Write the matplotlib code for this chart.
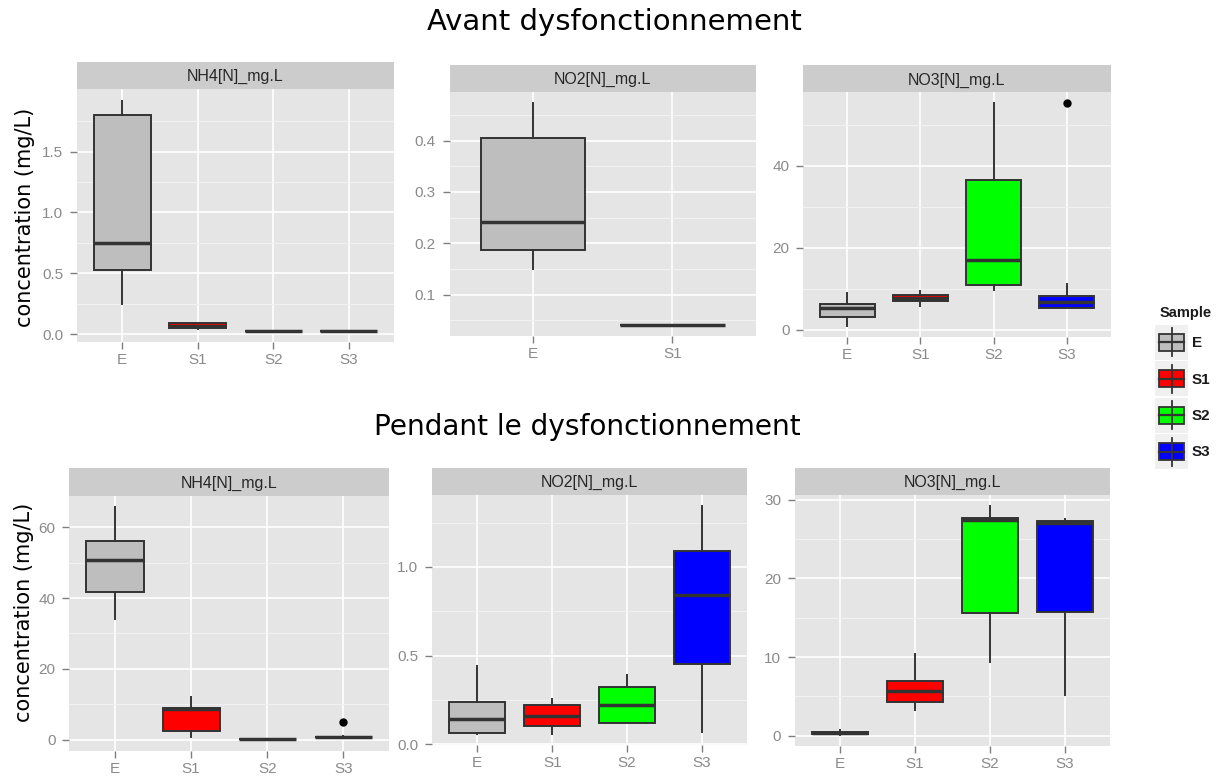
import matplotlib
matplotlib.use("Agg")
import matplotlib.pyplot as plt
from matplotlib.patches import Rectangle
from matplotlib.ticker import FixedLocator, NullLocator

# ---------------- data ----------------
samples = ["E", "S1", "S2", "S3"]
sample_colors = {"E": "#bebebe", "S1": "#ff0000", "S2": "#00ff00", "S3": "#0000ff"}
strip_labels = ["NH4[N]_mg.L", "NO2[N]_mg.L", "NO3[N]_mg.L"]
row_titles = ["Avant dysfonctionnement", "Pendant le dysfonctionnement"]
ylabel = "concentration (mg/L)"

# each row: [whisker low, Q1, median, Q3, whisker high]
# --- Avant ---
avant_nh4_cats = ["E", "S1", "S2", "S3"]
avant_nh4 = [[0.25, 0.53, 0.75, 1.80, 1.92],
             [0.045, 0.05, 0.065, 0.09, 0.095],
             [0.03, 0.03, 0.03, 0.03, 0.03],
             [0.03, 0.03, 0.03, 0.03, 0.03]]
avant_nh4_out = [[], [], [], []]

avant_no2_cats = ["E", "S1"]
avant_no2 = [[0.15, 0.186, 0.241, 0.405, 0.473],
             [0.041, 0.041, 0.041, 0.041, 0.041]]
avant_no2_out = [[], []]

avant_no3_cats = ["E", "S1", "S2", "S3"]
avant_no3 = [[1.05, 3.1, 5.3, 6.4, 9.1],
             [5.8, 7.1, 7.8, 8.4, 9.6],
             [9.8, 11.0, 17.1, 36.6, 55.2],
             [5.3, 5.4, 6.8, 8.2, 11.1]]
avant_no3_out = [[], [], [], [55.2]]

# --- Pendant ---
pendant_nh4_cats = ["E", "S1", "S2", "S3"]
pendant_nh4 = [[34.0, 41.7, 50.7, 56.2, 65.6],
               [0.9, 2.6, 8.7, 9.0, 12.0],
               [0.1, 0.15, 0.2, 0.25, 0.3],
               [0.6, 0.7, 0.8, 0.9, 1.0]]
pendant_nh4_out = [[], [], [], [4.9]]

pendant_no2_cats = ["E", "S1", "S2", "S3"]
pendant_no2 = [[0.06, 0.066, 0.145, 0.239, 0.44],
               [0.06, 0.104, 0.16, 0.224, 0.254],
               [0.12, 0.12, 0.22, 0.324, 0.393],
               [0.07, 0.455, 0.844, 1.088, 1.342]]
pendant_no2_out = [[], [], [], []]

pendant_no3_cats = ["E", "S1", "S2", "S3"]
pendant_no3 = [[0.15, 0.2, 0.35, 0.5, 0.7],
               [3.3, 4.23, 5.63, 6.97, 10.35],
               [9.43, 15.55, 27.4, 27.7, 29.15],
               [5.2, 15.77, 27.1, 27.3, 27.6]]
pendant_no3_out = [[], [], [], []]

# y breaks per panel
avant_nh4_major = [0.0, 0.5, 1.0, 1.5]; avant_nh4_minor = [0.25, 0.75, 1.25, 1.75]
avant_nh4_lbl = ["0.0", "0.5", "1.0", "1.5"]
avant_no2_major = [0.1, 0.2, 0.3, 0.4]; avant_no2_minor = [0.05, 0.15, 0.25, 0.35, 0.45]
avant_no2_lbl = ["0.1", "0.2", "0.3", "0.4"]
avant_no3_major = [0, 20, 40]; avant_no3_minor = [10, 30, 50]
avant_no3_lbl = ["0", "20", "40"]
pendant_nh4_major = [0, 20, 40, 60]; pendant_nh4_minor = [10, 30, 50]
pendant_nh4_lbl = ["0", "20", "40", "60"]
pendant_no2_major = [0.0, 0.5, 1.0]; pendant_no2_minor = [0.25, 0.75, 1.25]
pendant_no2_lbl = ["0.0", "0.5", "1.0"]
pendant_no3_major = [0, 10, 20, 30]; pendant_no3_minor = [5, 15, 25]
pendant_no3_lbl = ["0", "10", "20", "30"]

# ---------------- layout ----------------
W, H = 1220, 781
fig = plt.figure(figsize=(W / 100, H / 100), dpi=100)
fig.patch.set_facecolor("white")

def rect(x0, y0, x1, y1):
    return [x0 / W, 1 - y1 / H, (x1 - x0) / W, (y1 - y0) / H]

EDGE = "#333333"
TICKC = "#7f7f7f"
LBLC = "#8a8a8a"
TICKFONT = "Liberation Sans"

panels = [
    ((77, 89, 394, 342), (77, 62, 394, 89), avant_nh4_cats, avant_nh4, avant_nh4_out,
     avant_nh4_major, avant_nh4_minor, avant_nh4_lbl, strip_labels[0]),
    ((449.5, 92, 756, 336), (449.5, 65, 756, 92), avant_no2_cats, avant_no2, avant_no2_out,
     avant_no2_major, avant_no2_minor, avant_no2_lbl, strip_labels[1]),
    ((803.4, 92.3, 1110.5, 336.7), (803.4, 65, 1110.5, 92.3), avant_no3_cats, avant_no3, avant_no3_out,
     avant_no3_major, avant_no3_minor, avant_no3_lbl, strip_labels[2]),
    ((69.3, 495.7, 389, 751), (69.3, 467.5, 389, 495.7), pendant_nh4_cats, pendant_nh4, pendant_nh4_out,
     pendant_nh4_major, pendant_nh4_minor, pendant_nh4_lbl, strip_labels[0]),
    ((432.3, 495, 747, 745), (432.3, 467.5, 747, 495), pendant_no2_cats, pendant_no2, pendant_no2_out,
     pendant_no2_major, pendant_no2_minor, pendant_no2_lbl, strip_labels[1]),
    ((795, 495, 1110, 746), (795, 467.5, 1110, 495), pendant_no3_cats, pendant_no3, pendant_no3_out,
     pendant_no3_major, pendant_no3_minor, pendant_no3_lbl, strip_labels[2]),
]

for (pbox, sbox, cats, stats, outs, major, minor, lbls, slabel) in panels:
    ax = fig.add_axes(rect(*pbox))
    ax.set_facecolor("#e5e5e5")
    for s in ax.spines.values():
        s.set_visible(False)
    bstats = []
    for cat, st, fl in zip(cats, stats, outs):
        bstats.append(dict(label=cat, whislo=st[0], q1=st[1], med=st[2], q3=st[3],
                           whishi=st[4], fliers=fl))
    n = len(cats)
    pos = list(range(1, n + 1))
    bp = ax.bxp(bstats, positions=pos, widths=0.75, patch_artist=True, showcaps=False,
                boxprops=dict(edgecolor=EDGE, linewidth=1.4),
                medianprops=dict(color=EDGE, linewidth=2.5, solid_capstyle="butt"),
                whiskerprops=dict(color=EDGE, linewidth=1.4),
                flierprops=dict(marker="o", markerfacecolor="black",
                                markeredgecolor="black", markersize=5))
    for patch, cat in zip(bp["boxes"], cats):
        patch.set_facecolor(sample_colors[cat])
        patch.set_zorder(3)
    for ln in bp["medians"] + bp["whiskers"] + bp["fliers"]:
        ln.set_zorder(4)
    lo = min(min(st[0] for st in stats), min([v for fl in outs for v in fl] or [1e9]))
    hi = max(max(st[4] for st in stats), max([v for fl in outs for v in fl] or [-1e9]))
    pad = 0.05 * (hi - lo)
    ax.set_ylim(lo - pad, hi + pad)
    ax.set_xlim(0.4, n + 0.6)
    ax.set_xticks(pos)
    ax.set_xticklabels(cats)
    ax.xaxis.set_minor_locator(NullLocator())
    ax.yaxis.set_major_locator(FixedLocator(major))
    ax.set_yticklabels(lbls)
    ax.yaxis.set_minor_locator(FixedLocator(minor))
    ax.set_axisbelow(True)
    ax.grid(which="major", color="white", linewidth=1.2, zorder=0)
    ax.grid(which="minor", axis="y", color="#f2f2f2", linewidth=0.7, zorder=0)
    ax.tick_params(which="major", direction="out", length=5, width=1, color=TICKC,
                   labelcolor=LBLC, labelsize=11, pad=5)
    ax.tick_params(axis="x", which="major", pad=3)
    ax.tick_params(which="minor", length=0)
    for t in ax.get_xticklabels() + ax.get_yticklabels():
        t.set_fontfamily(TICKFONT)
    # strip
    sx = fig.add_axes(rect(*sbox))
    sx.set_facecolor("#cccccc")
    sx.set_xticks([]); sx.set_yticks([])
    for s in sx.spines.values():
        s.set_visible(False)
    sx.text(0.5, 0.45, slabel, ha="center", va="center", fontsize=11.5,
            color="#262626", family=TICKFONT, transform=sx.transAxes)

# ---------------- titles & y labels ----------------
fig.text(614 / W, 1 - 22 / H, row_titles[0], ha="center", va="center", fontsize=21,
         family="DejaVu Sans", color="black")
fig.text(587 / W, 1 - 427 / H, row_titles[1], ha="center", va="center", fontsize=20.2,
         family="DejaVu Sans", color="black")
fig.text(25 / W, 1 - 217 / H, ylabel, rotation=90, ha="center", va="center",
         fontsize=15, family="DejaVu Sans", color="black")
fig.text(24 / W, 1 - 612 / H, ylabel, rotation=90, ha="center", va="center",
         fontsize=15, family="DejaVu Sans", color="black")

# ---------------- legend ----------------
lg = fig.add_axes([0, 0, 1, 1], zorder=10)
lg.set_xlim(0, W); lg.set_ylim(H, 0)
lg.axis("off")
lg.patch.set_alpha(0)
lg.text(1186, 313, "Sample", ha="center", va="center", fontsize=10.5,
        fontweight="bold", family=TICKFONT, color="#1a1a1a")
key_centers = [342, 378.5, 415, 451.5]
for cat, yc in zip(samples, key_centers):
    lg.add_patch(Rectangle((1155, yc - 17.5), 33, 35, facecolor="#f0f0f0",
                           edgecolor="none"))
    lg.plot([1171.5, 1171.5], [yc - 14, yc + 14], color=EDGE, lw=1.3)
    lg.add_patch(Rectangle((1159, yc - 8.5), 25, 17, facecolor=sample_colors[cat],
                           edgecolor=EDGE, lw=1.3))
    lg.plot([1159, 1184], [yc, yc], color=EDGE, lw=1.6)
    lg.text(1192, yc + 1, cat, ha="left", va="center", fontsize=11,
            fontweight="bold", family=TICKFONT, color="#1a1a1a")

fig.savefig("out.png", dpi=100)
